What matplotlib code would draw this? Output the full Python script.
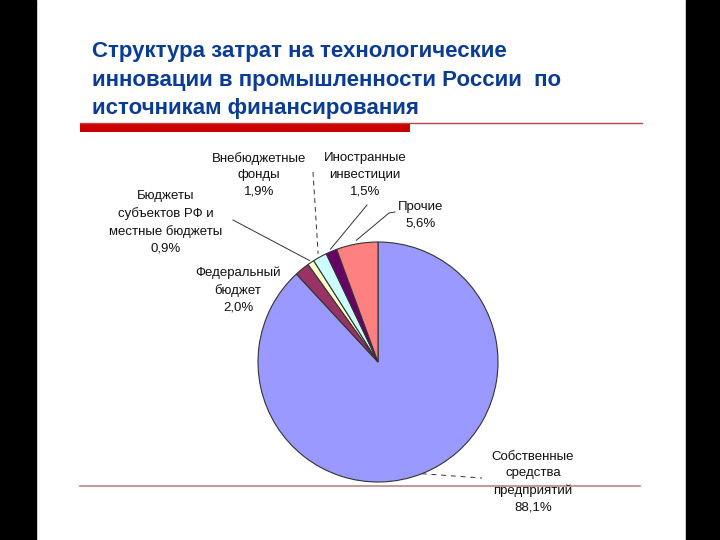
import numpy as np
import matplotlib.pyplot as plt

plt.rcParams['font.family'] = ['Liberation Sans', 'DejaVu Sans']

# data (percent)
sources = ['Собственные\nсредства\nпредприятий', 'Федеральный\nбюджет',
           'Бюджеты\nсубъектов РФ и\nместные бюджеты', 'Внебюджетные\nфонды',
           'Иностранные\nинвестиции', 'Прочие']
shares = [88.1, 2.0, 0.9, 1.9, 1.5, 5.6]
colors = ['#9999FF', '#993366', '#FFFFCC', '#CCFFFF', '#660066', '#FF8080']

title_lines = ['Структура затрат на технологические',
               'инновации в промышленности России  по',
               'источникам финансирования']

W, H = 720, 540


def Y(y):
    # top-origin pixel -> axes coordinate
    return H - y


fig = plt.figure(figsize=(7.2, 5.4), dpi=100)
ax = fig.add_axes([0, 0, 1, 1])

cx, cy, R = 378, Y(362), 120
wedges, _ = ax.pie(shares, colors=colors, startangle=90, counterclock=False,
                   center=(cx, cy), radius=R,
                   wedgeprops=dict(edgecolor='#333333', linewidth=0.8))
ax.set_xlim(0, W)
ax.set_ylim(0, H)
ax.set_aspect('auto')
ax.axis('off')

# side bars
ax.add_patch(plt.Rectangle((0, 0), 36, H, color='black'))
ax.add_patch(plt.Rectangle((686, 0), 34, H, color='black'))

# title
for i, line in enumerate(title_lines):
    ax.text(92, Y(57 + i * 28.7), line, fontsize=16, fontweight='bold',
            color='#0B3C93', ha='left', va='baseline')

# red rules
ax.plot([80, 642], [Y(123), Y(123)], color='#B84848', lw=1.0)
ax.add_patch(plt.Rectangle((80, Y(132)), 330, 8.5, color='#CC0000', lw=0))
ax.plot([80, 640], [Y(485.5), Y(485.5)], color='#C29090', lw=1.3)

# labels: text centre (px, top-origin)
label_pos = [(533, 482), (238, 290), (166, 222), (259, 175), (365, 175), (421, 215)]
values = [f'{v:.1f}%'.replace('.', ',') for v in shares]
for name, val, (lx, ly) in zip(sources, values, label_pos):
    ax.text(lx, Y(ly), f'{name}\n{val}', fontsize=9.5, ha='center',
            va='center', linespacing=1.5, color='#111111')


def edge_point(w, r=1.02):
    a = np.deg2rad((w.theta1 + w.theta2) / 2)
    return cx + R * r * np.cos(a), cy + R * r * np.sin(a)


# leader lines
lead = dict(color='#333333', lw=0.7)
x, y = edge_point(wedges[2])
ax.plot([233, x], [Y(220), y], **lead)
x, y = edge_point(wedges[3], 1.03)
ax.plot([313, x], [Y(172), y], ls=(0, (5, 4)), **lead)
x, y = edge_point(wedges[4])
ax.plot([367, x], [Y(205), y], **lead)
x, y = edge_point(wedges[5], 1.03)
ax.plot([395, 389, x], [Y(212), Y(213), y], **lead)
x, y = edge_point(wedges[0], 1.0)
ax.plot([x, 482], [y, Y(478)], ls=(0, (5, 5)), **lead)

fig.savefig('out.png', dpi=100, facecolor='white')
